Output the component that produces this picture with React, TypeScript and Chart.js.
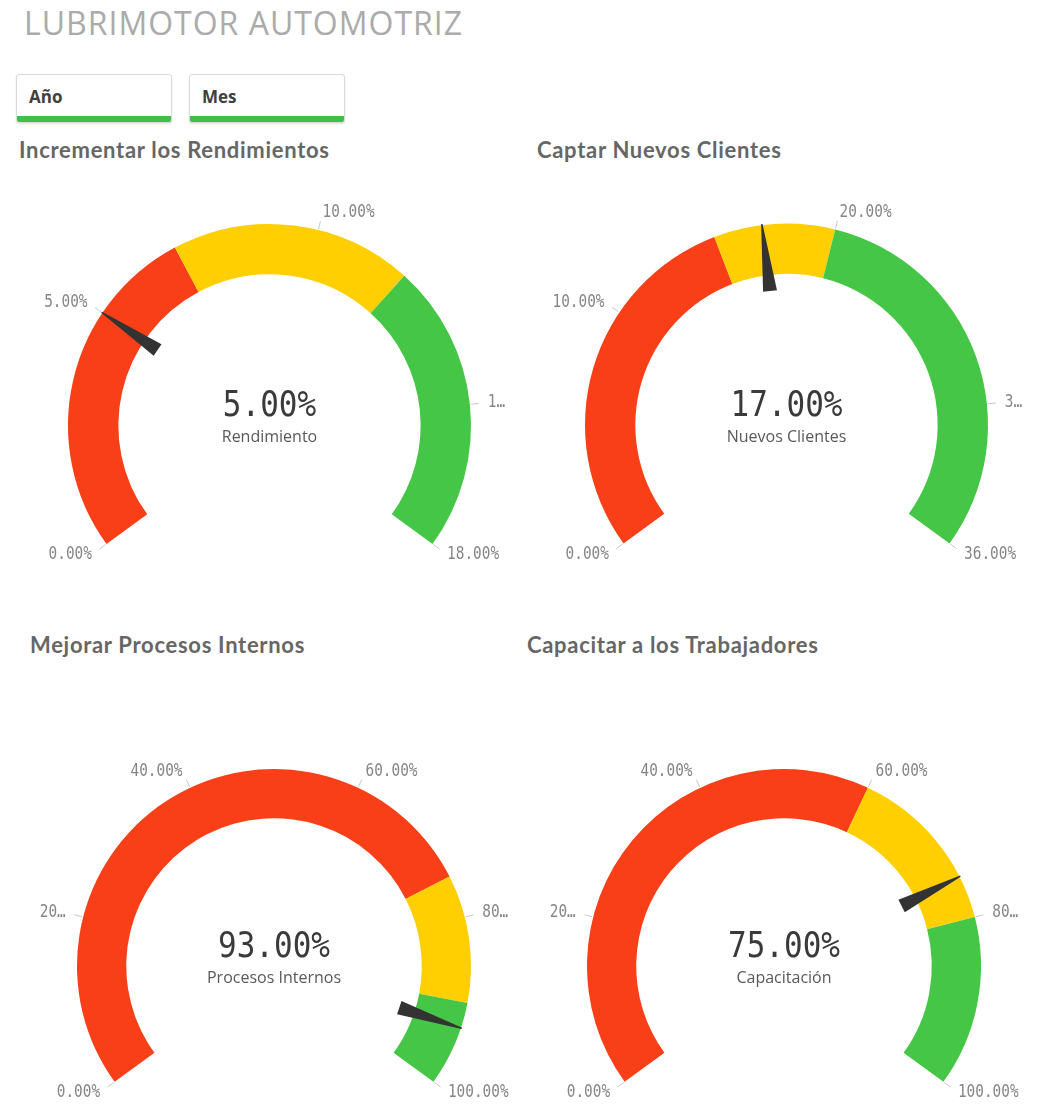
import React, { useEffect, useRef } from 'react';
import { Chart, registerables } from 'chart.js';

Chart.register(...registerables);

// ---------- data ----------
const pageTitle = 'LUBRIMOTOR AUTOMOTRIZ';
const filterLabels = ['Año', 'Mes'];
const gaugeTitles = [
  'Incrementar los Rendimientos',
  'Captar Nuevos Clientes',
  'Mejorar Procesos Internos',
  'Capacitar a los Trabajadores',
];
const measureLabels = ['Rendimiento', 'Nuevos Clientes', 'Procesos Internos', 'Capacitación'];
const measureValues = [5, 17, 93, 75];
const gaugeMin = [0, 0, 0, 0];
const redLimits = [7, 15, 75, 60];
const yellowLimits = [12, 20, 90, 80];
const gaugeMax = [18, 36, 100, 100];
const tickValues = [
  [0, 5, 10, 15, 18],
  [0, 10, 20, 30, 36],
  [0, 20, 40, 60, 80, 100],
  [0, 20, 40, 60, 80, 100],
];
const tickLabels = [
  ['0.00%', '5.00%', '10.00%', '1…', '18.00%'],
  ['0.00%', '10.00%', '20.00%', '3…', '36.00%'],
  ['0.00%', '20…', '40.00%', '60.00%', '80…', '100.00%'],
  ['0.00%', '20…', '40.00%', '60.00%', '80…', '100.00%'],
];
const bandNames = ['Bajo', 'Medio', 'Alto'];
const bandColors = ['#f93f17', '#ffcf02', '#46c646'];

// ---------- layout ----------
const gaugeLayout = [
  { cx: 269.5, cy: 425.5, r: 201.5 },
  { cx: 786.5, cy: 425, r: 201.5 },
  { cx: 274, cy: 966, r: 197 },
  { cx: 784, cy: 966, r: 197 },
];
const titlePos = [
  { left: 19, top: 138.5 },
  { left: 537, top: 138.5 },
  { left: 30, top: 633.5 },
  { left: 527, top: 633.5 },
];

const SWEEP = 252;

function drawStretched(ctx: CanvasRenderingContext2D, text: string, x: number, y: number, sy: number) {
  ctx.save();
  ctx.translate(x, y);
  ctx.scale(1, sy);
  ctx.fillText(text, 0, 0);
  ctx.restore();
}

const gaugePlugin = {
  id: 'gauge',
  afterDatasetsDraw(chart: any, _args: any, opts: any) {
    const meta = chart.getDatasetMeta(0);
    const arcs = meta.data as any[];
    if (!arcs.length) return;
    const first = arcs[0].getProps(['x', 'y', 'startAngle', 'outerRadius', 'innerRadius'], true);
    const last = arcs[arcs.length - 1].getProps(['endAngle'], true);
    const x = first.x;
    const y = first.y;
    const R = first.outerRadius;
    const a0 = first.startAngle;
    const a1 = last.endAngle;
    const toAngle = (v: number) => a0 + ((v - opts.min) / (opts.max - opts.min)) * (a1 - a0);
    const ctx: CanvasRenderingContext2D = chart.ctx;
    ctx.save();

    // ticks + labels
    ctx.strokeStyle = '#c8c8c8';
    ctx.lineWidth = 1;
    ctx.fillStyle = '#858585';
    ctx.font = '14.4px "DejaVu Sans Mono", monospace';
    ctx.textBaseline = 'middle';
    (opts.ticks as number[]).forEach((t, i) => {
      const a = toAngle(t);
      const c = Math.cos(a);
      const s = Math.sin(a);
      ctx.beginPath();
      ctx.moveTo(x + c * (R + 1), y + s * (R + 1));
      ctx.lineTo(x + c * (R + 9), y + s * (R + 9));
      ctx.stroke();
      ctx.textAlign = c >= 0 ? 'left' : 'right';
      drawStretched(ctx, opts.tickLabels[i], x + c * (R + 18), y + s * (R + 18), 1.2);
    });

    // needle
    const a = toAngle(opts.value);
    const c = Math.cos(a);
    const s = Math.sin(a);
    const px = -s;
    const py = c;
    const rb = R * 0.67;
    const rt = R * 1.005;
    ctx.fillStyle = '#333333';
    ctx.beginPath();
    ctx.moveTo(x + c * rb + px * 7, y + s * rb + py * 7);
    ctx.lineTo(x + c * rt + px * 0.7, y + s * rt + py * 0.7);
    ctx.lineTo(x + c * rt - px * 0.7, y + s * rt - py * 0.7);
    ctx.lineTo(x + c * rb - px * 7, y + s * rb - py * 7);
    ctx.closePath();
    ctx.fill();

    // center texts
    ctx.textAlign = 'center';
    ctx.textBaseline = 'middle';
    ctx.fillStyle = '#3a3a3a';
    ctx.font = '31px "DejaVu Sans Mono", monospace';
    drawStretched(ctx, opts.valueText, x, y - 18.5, 1.15);
    ctx.fillStyle = '#595959';
    ctx.font = '16px "Open Sans", sans-serif';
    ctx.fillText(opts.label, x, y + 12);
    ctx.restore();
  },
};

function Gauge({ index }: { index: number }) {
  const ref = useRef<HTMLCanvasElement>(null);
  const { cx, cy, r } = gaugeLayout[index];
  const W = Math.round(2 * r + 100);
  const H = Math.round(r + 190);
  const left = cx - W / 2;
  const top = Math.round(cy - r - 50);
  const k = (1 - Math.sin((36 * Math.PI) / 180)) / 2;
  const padTop = 2 * (cy - k * r - top) - H;

  useEffect(() => {
    if (!ref.current) return;
    const min = gaugeMin[index];
    const bands = [
      redLimits[index] - min,
      yellowLimits[index] - redLimits[index],
      gaugeMax[index] - yellowLimits[index],
    ];
    const chart = new Chart(ref.current, {
      type: 'doughnut',
      data: {
        labels: bandNames,
        datasets: [
          {
            data: bands,
            backgroundColor: bandColors,
            borderWidth: 0,
            hoverOffset: 0,
          },
        ],
      },
      options: {
        responsive: false,
        animation: false,
        events: [],
        rotation: -SWEEP / 2,
        circumference: SWEEP,
        cutout: '75%',
        radius: r,
        layout: { padding: { top: padTop, left: 0, right: 0, bottom: 0 } },
        plugins: {
          legend: { display: false },
          tooltip: { enabled: false },
          gauge: {
            min,
            max: gaugeMax[index],
            value: measureValues[index],
            valueText: measureValues[index].toFixed(2) + '%',
            label: measureLabels[index],
            ticks: tickValues[index],
            tickLabels: tickLabels[index],
          },
        },
      } as any,
      plugins: [gaugePlugin as any],
    });
    return () => chart.destroy();
  }, [index]);

  return (
    <canvas
      ref={ref}
      width={W}
      height={H}
      style={{ position: 'absolute', left, top, width: W, height: H }}
    />
  );
}

export default function App() {
  return (
    <div style={{ position: 'absolute', left: 0, top: 0, width: 1049, height: 1108, overflow: 'hidden', background: '#fff' }}>
      <div
        style={{
          position: 'absolute',
          left: 24,
          top: 6.6,
          fontFamily: '"Open Sans", sans-serif',
          fontSize: 32,
          lineHeight: '32px',
          fontWeight: 400,
          letterSpacing: 1,
          color: '#ababab',
          whiteSpace: 'nowrap',
        }}
      >
        {pageTitle}
      </div>
      {filterLabels.map((f, i) => (
        <div
          key={f}
          style={{
            position: 'absolute',
            left: i === 0 ? 16 : 189,
            top: 74,
            width: 156,
            height: 49,
            boxSizing: 'border-box',
            border: '1px solid #dadada',
            borderRadius: 3,
            boxShadow: '0 1px 2px rgba(0,0,0,0.12)',
            background: '#fff',
            overflow: 'hidden',
          }}
        >
          <div
            style={{
              position: 'absolute',
              left: 12,
              top: 12.6,
              fontFamily: '"Open Sans", sans-serif',
              fontWeight: 700,
              fontSize: 17,
              lineHeight: '17px',
              color: '#404040',
            }}
          >
            {f}
          </div>
          <div style={{ position: 'absolute', left: 0, right: 0, bottom: 0, height: 6, background: '#3fbf4a' }} />
        </div>
      ))}
      {gaugeTitles.map((t, i) => (
        <div
          key={t}
          style={{
            position: 'absolute',
            left: titlePos[i].left,
            top: titlePos[i].top,
            fontFamily: 'Lato, sans-serif',
            fontWeight: 700,
            fontSize: 22,
            lineHeight: '22px',
            letterSpacing: 0.7,
            color: '#666666',
            whiteSpace: 'nowrap',
          }}
        >
          {t}
        </div>
      ))}
      {gaugeTitles.map((_, i) => (
        <Gauge key={i} index={i} />
      ))}
    </div>
  );
}
